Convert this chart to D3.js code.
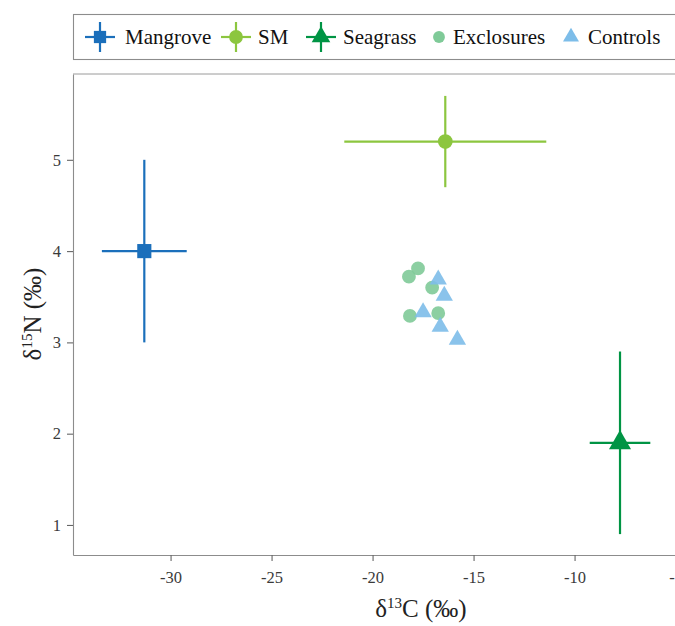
<!DOCTYPE html>
<meta charset="utf-8">

<!-- Load d3.js -->
<script src="https://d3js.org/d3.v7.min.js"></script>

<style>
  body { margin: 0; background: #fff; }
  svg text { font-family: "Liberation Serif", "Times New Roman", serif !important; }
</style>

<!-- Create a div where the graph will take place -->
<div id="my_dataviz"></div>

<script>

// source means (d13C, d15N) and their error bars
var sourceNames = ["Mangrove", "SM", "Seagrass"];
var sourceC     = [-31.3, -16.4, -7.75];
var sourceN     = [4.0, 5.2, 1.9];
var sourceCerr  = [2.1, 5.0, 1.5];
var sourceNerr  = [1.0, 0.5, 1.0];

// consumer samples
var exclosuresC = [-18.2, -17.75, -17.05, -18.15, -16.75];
var exclosuresN = [3.72, 3.81, 3.6, 3.29, 3.32];
var controlsC   = [-16.75, -16.45, -17.5, -16.65, -15.8];
var controlsN   = [3.69, 3.51, 3.33, 3.17, 3.03];

// axis ticks
var xTicks = [-30, -25, -20, -15, -10, -5];
var yTicks = [1, 2, 3, 4, 5];

// legend entries
var legendNames = ["Mangrove", "SM", "Seagrass", "Exclosures", "Controls"];

// colours and shapes
var colors = {
  Mangrove: "#1b6fbb",
  SM: "#8cc63f",
  Seagrass: "#009444",
  Exclosures: "#7fca98",
  Controls: "#7dbde9"
};
var shapes = {
  Mangrove: d3.symbolSquare,
  SM: d3.symbolCircle,
  Seagrass: d3.symbolTriangle,
  Exclosures: d3.symbolCircle,
  Controls: d3.symbolTriangle
};

// set the dimensions and margins of the graph
var W = 675, H = 626;
var margin = {top: 74, left: 73, bottom: 555};

var svg = d3.select("#my_dataviz")
  .append("svg")
    .attr("width", W)
    .attr("height", H);

// scales
var x = d3.scaleLinear()
  .domain([-34.83, -4])
  .range([margin.left, margin.left + 30.83 * 20.2]);
var y = d3.scaleLinear()
  .domain([0.671, 5.94])
  .range([margin.bottom, margin.top]);

// axes
var xAxis = svg.append("g")
  .attr("transform", "translate(0," + margin.bottom + ")")
  .call(d3.axisBottom(x).tickValues(xTicks).tickSize(6).tickSizeOuter(0).tickPadding(10)
        .tickFormat(function(d) { return String(d); }));
var yAxis = svg.append("g")
  .attr("transform", "translate(" + margin.left + ",0)")
  .call(d3.axisLeft(y).tickValues(yTicks).tickSize(6).tickSizeOuter(0).tickPadding(6)
        .tickFormat(function(d) { return String(d); }));

[xAxis, yAxis].forEach(function(a) {
  a.attr("font-size", 16.5);
  a.select(".domain").attr("stroke", "#8c8c8c").attr("stroke-width", 1.1);
  a.selectAll(".tick line").attr("stroke", "#666").attr("stroke-width", 1.1);
  a.selectAll(".tick text").attr("fill", "#3a3a3a");
});

// top border of the panel
svg.append("line")
  .attr("x1", margin.left).attr("x2", W)
  .attr("y1", margin.top).attr("y2", margin.top)
  .attr("stroke", "#9a9a9a").attr("stroke-width", 1);

// axis titles
var xt = svg.append("text")
  .attr("x", 421).attr("y", 617)
  .attr("text-anchor", "middle")
  .attr("font-size", 25)
  .attr("fill", "#222");
xt.append("tspan").text("δ");
xt.append("tspan").attr("dy", -9).attr("font-size", 15).text("13");
xt.append("tspan").attr("dy", 9).text("C (‰)");

var yt = svg.append("text")
  .attr("transform", "translate(41," + 314 + ") rotate(-90)")
  .attr("text-anchor", "middle")
  .attr("font-size", 25)
  .attr("fill", "#222");
yt.append("tspan").text("δ");
yt.append("tspan").attr("dy", -9).attr("font-size", 15).text("15");
yt.append("tspan").attr("dy", 9).text("N (‰)");

// error bars of the sources
var sources = sourceNames.map(function(n, i) {
  return {name: n, c: sourceC[i], n: sourceN[i], ce: sourceCerr[i], ne: sourceNerr[i]};
});
var srcG = svg.append("g");
sources.forEach(function(d) {
  srcG.append("line")
    .attr("x1", x(d.c - d.ce)).attr("x2", x(d.c + d.ce))
    .attr("y1", y(d.n)).attr("y2", y(d.n))
    .attr("stroke", colors[d.name]).attr("stroke-width", 2.2);
  srcG.append("line")
    .attr("x1", x(d.c)).attr("x2", x(d.c))
    .attr("y1", y(d.n - d.ne)).attr("y2", y(d.n + d.ne))
    .attr("stroke", colors[d.name]).attr("stroke-width", 2.2);
});

// consumer points
function pts(name, cs, ns, size) {
  svg.append("g").selectAll("path")
    .data(cs.map(function(c, i) { return {c: c, n: ns[i]}; }))
    .enter()
    .append("path")
      .attr("transform", function(d) { return "translate(" + x(d.c) + "," + y(d.n) + ")"; })
      .attr("d", d3.symbol().type(shapes[name]).size(size))
      .attr("fill", colors[name])
      .attr("opacity", 0.9);
}
pts("Exclosures", exclosuresC, exclosuresN, 150);
pts("Controls", controlsC, controlsN, 130);

// source means on top
sources.forEach(function(d) {
  var s = d.name == "Seagrass" ? 210 : d.name == "Mangrove" ? 200 : 170;
  srcG.append("path")
    .attr("transform", "translate(" + x(d.c) + "," + y(d.n) + ")")
    .attr("d", d3.symbol().type(shapes[d.name]).size(s))
    .attr("fill", colors[d.name]);
});

// legend
var legend = svg.append("g");
legend.append("rect")
  .attr("x", 73.5).attr("y", 14.5)
  .attr("width", 640).attr("height", 45)
  .attr("fill", "none")
  .attr("stroke", "#8c8c8c").attr("stroke-width", 1.1);

var keyX  = [100, 236, 321, 439, 571];
var textX = [125, 258, 343, 453, 588];
var ly = 37;
legendNames.forEach(function(n, i) {
  var k = legend.append("g").attr("transform", "translate(" + keyX[i] + "," + ly + ")");
  if (i < 3) {
    k.append("line").attr("x1", -15).attr("x2", 15).attr("y1", 0).attr("y2", 0)
      .attr("stroke", colors[n]).attr("stroke-width", 2.2);
    k.append("line").attr("x1", 0).attr("x2", 0).attr("y1", -15).attr("y2", 15)
      .attr("stroke", colors[n]).attr("stroke-width", 2.2);
  }
  var s = i < 3 ? 150 : 110;
  k.append("path")
    .attr("d", d3.symbol().type(shapes[n]).size(s))
    .attr("fill", colors[n]);
  legend.append("text")
    .attr("x", textX[i]).attr("y", ly + 7)
    .attr("font-size", 21)
    .attr("fill", "#111")
    .text(n);
});

</script>
